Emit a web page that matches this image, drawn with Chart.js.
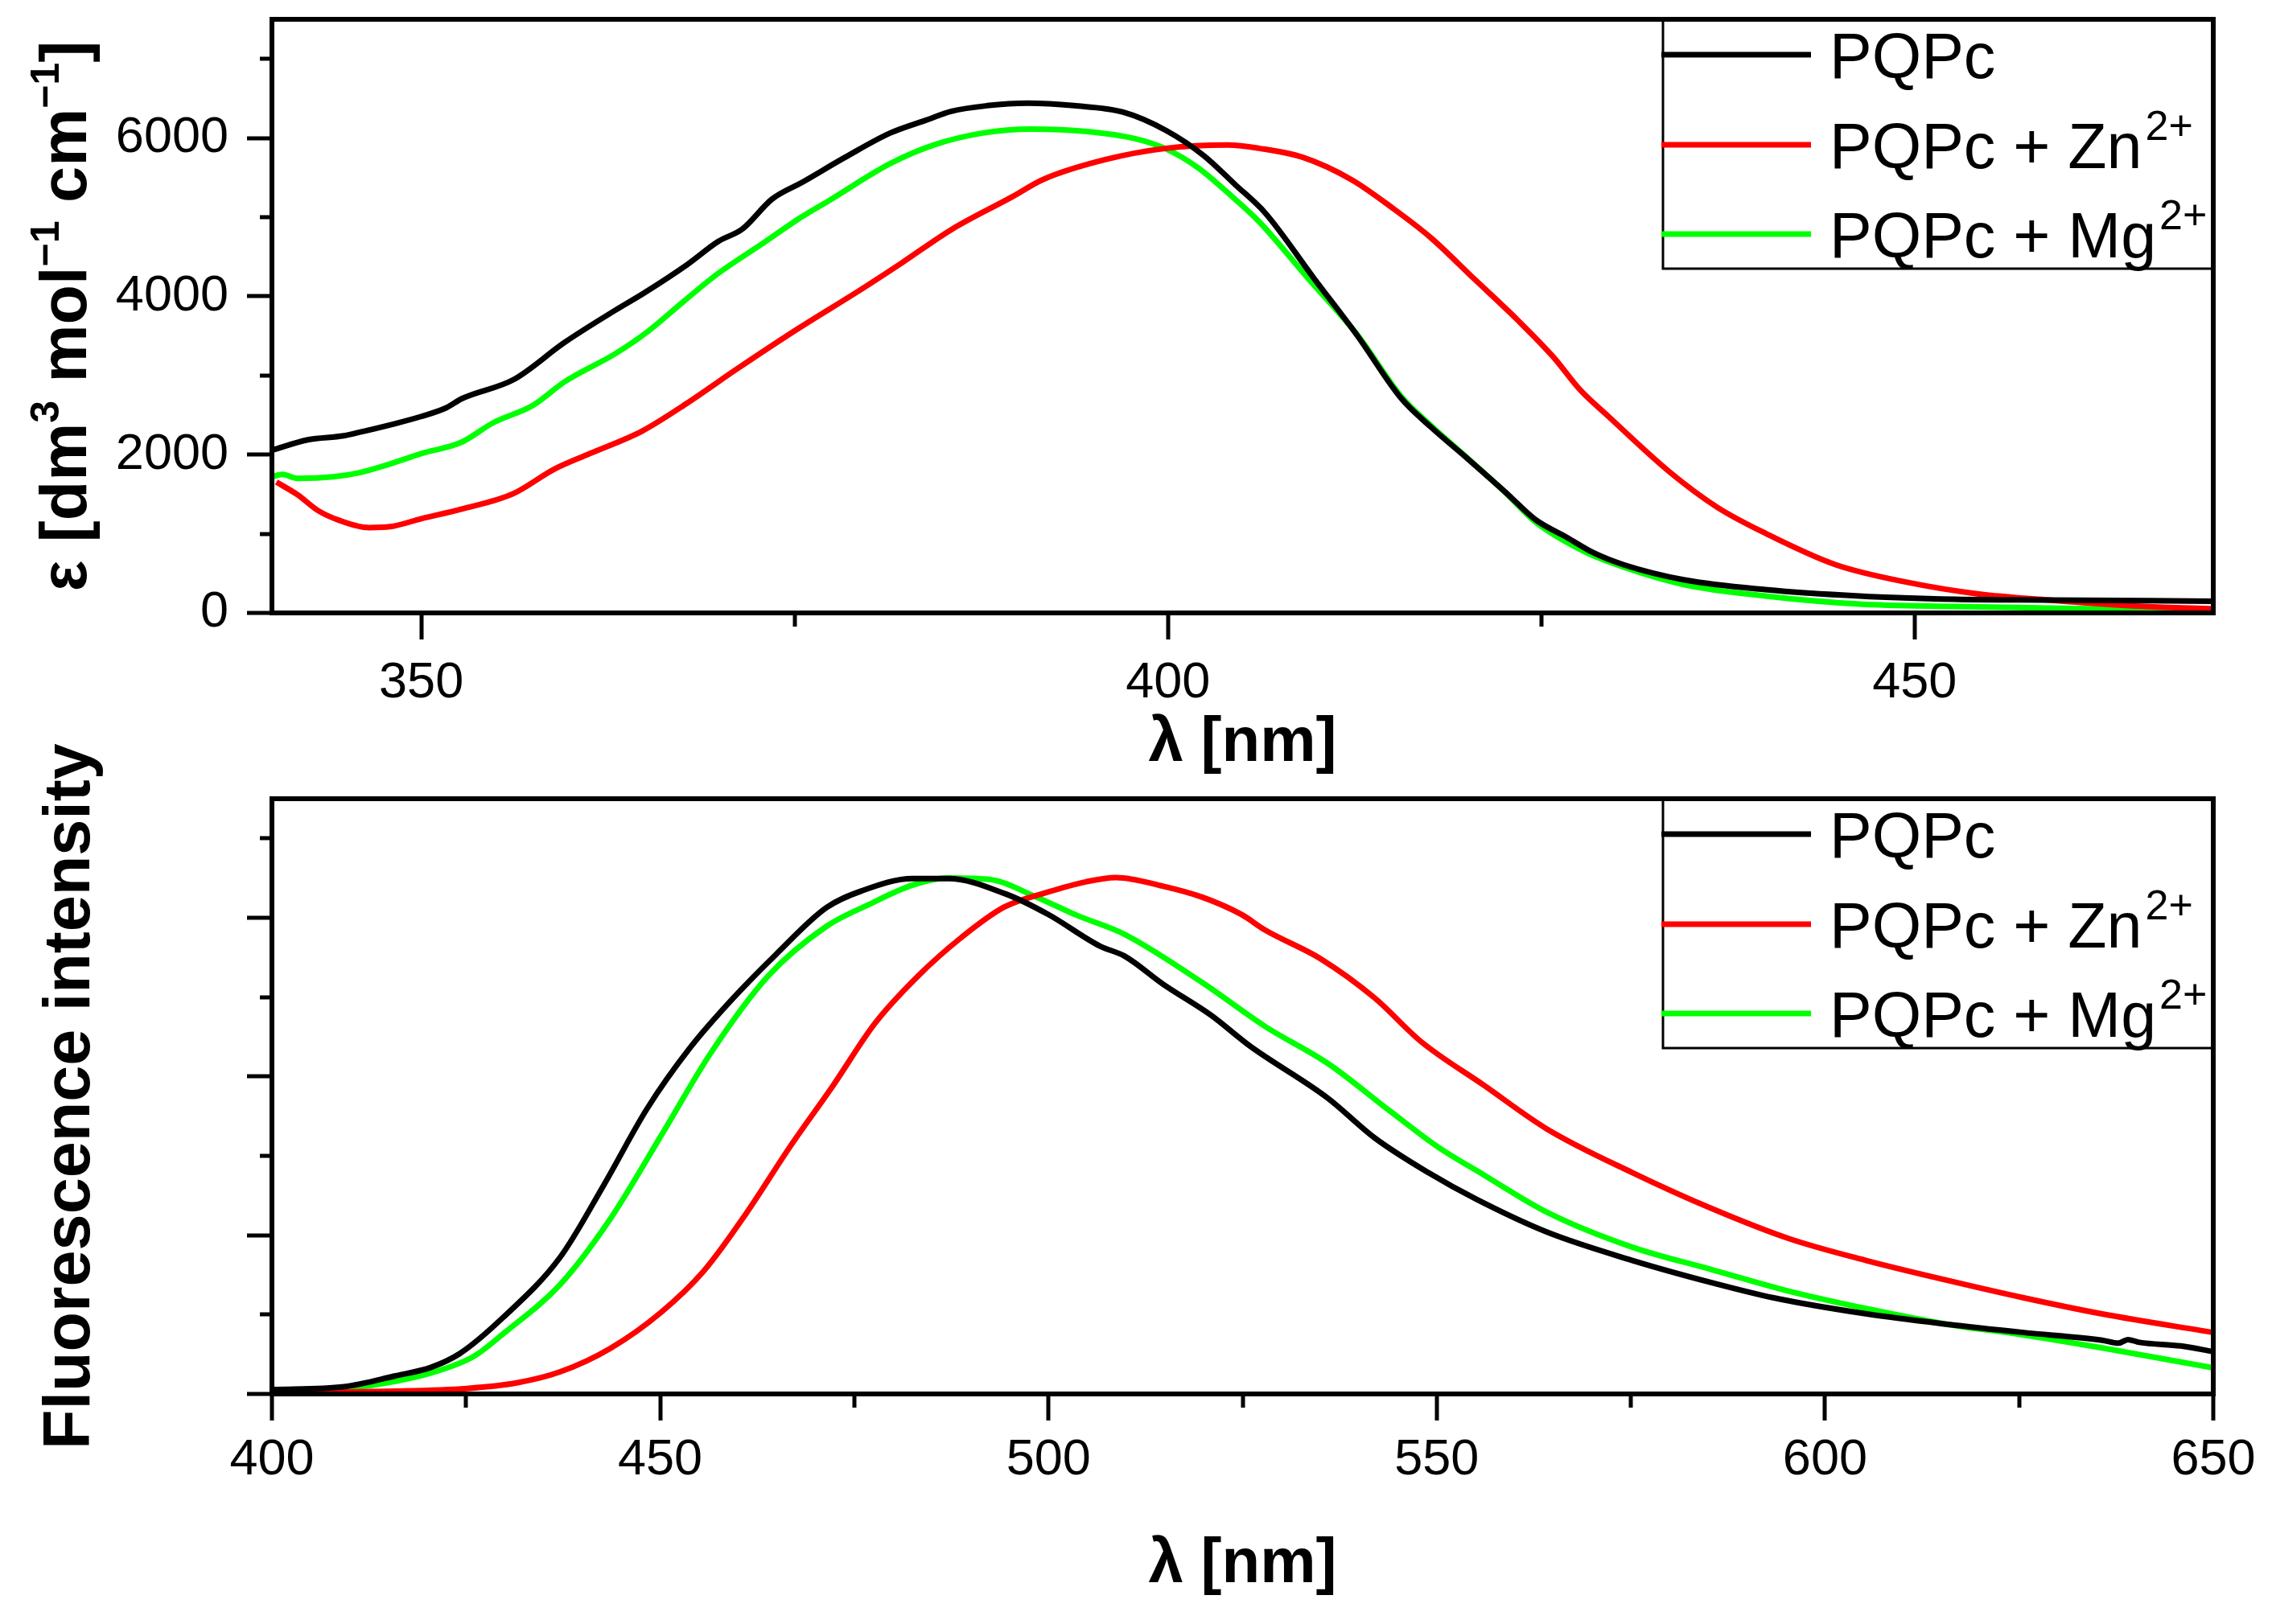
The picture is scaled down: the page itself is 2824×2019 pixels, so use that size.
<!DOCTYPE html>
<html><head><meta charset="utf-8">
<script src="https://cdn.jsdelivr.net/npm/chart.js@4.4.1/dist/chart.umd.min.js"></script>
<style>
html,body{margin:0;padding:0;background:#fff;}
canvas{position:absolute;left:0;}
#c1{top:0;}
#c2{top:880px;}
</style></head><body>
<canvas id="c1" width="2824" height="975" style="width:2824px;height:975px"></canvas>
<canvas id="c2" width="2824" height="1139" style="width:2824px;height:1139px"></canvas>
<script>
// ---------- DATA ----------
const seriesNames = ['PQPc', 'PQPc + Zn', 'PQPc + Mg'];
const seriesSup = ['', '2+', '2+'];
const seriesColors = ['#000000', '#ff0000', '#00ff00'];

// Absorption (top panel): wavelength [nm] and epsilon [dm3 mol-1 cm-1]
const absPQPcX = [340,342.4,344.8,345.8,348,350,351.7,352.7,356.2,359.6,363,364.9,367.8,369.9,371.5,373.5,375.5,378.4,381.4,383.8,385.5,387.9,390.6,393.7,397,399.9,402.4,404.5,406.5,409.8,412.7,415.6,417.6,420.1,422.6,424.6,426.7,428.5,430.5,434.6,440,446.3,452.7,459,470];
const absPQPcY = [2055,2187,2238,2280,2380,2482,2594,2706,2950,3418,3825,4040,4400,4695,4850,5230,5440,5758,6063,6226,6338,6409,6440,6409,6327,6093,5778,5412,5056,4222,3499,2716,2350,1943,1526,1180,956,760,610,417,295,214,173,163,148];
const absZnX = [340.3,341.7,343.1,344.5,346.5,347.9,350,352.7,356.2,358.9,361.3,364.8,367.8,371.2,375.3,379.3,382.2,385.5,389.6,391.6,395.8,399.9,404,406.1,409,412.3,415.1,417.6,420.5,423.4,425.8,427.6,429.5,433.6,436.8,440,444.7,449.5,454.3,459,465.4,470];
const absZnY = [1653,1495,1292,1170,1078,1089,1190,1312,1511,1816,2014,2299,2650,3090,3600,4069,4425,4843,5260,5473,5727,5870,5911,5870,5758,5473,5107,4741,4222,3703,3235,2818,2482,1780,1333,1007,610,387,239,163,81,51];
const absMgX = [340,340.7,341.7,344.1,345.8,347.9,350,352.7,354.8,357.5,359.6,363,365.2,367.6,369.8,372.8,375.4,377.3,381.4,384.3,387.6,390.8,394.6,397.8,399.9,402,404,406.1,409.4,412.7,415.6,417.6,420.1,422.6,424.6,427.9,430.5,434.6,440,446.3,452.7,459,470];
const absMgY = [1719,1750,1699,1719,1770,1882,2014,2157,2401,2625,2920,3276,3560,3940,4278,4660,4995,5209,5677,5911,6063,6114,6083,5992,5860,5626,5310,4944,4222,3510,2740,2370,1950,1520,1150,773,580,356,214,112,81,61,31];

// Fluorescence (bottom panel): wavelength [nm] and intensity (arbitrary units)
const flPQPcX = [400,409.3,415.9,420.5,424.2,429.7,437.1,442.7,448.3,453.8,459.4,464.9,471.4,476,482.5,487.1,494.5,500,506.6,509.8,514.8,520.9,525.9,536,542,549,555.1,564.2,575.3,585.3,593.4,605.4,615.6,625.6,635.7,637.8,639,640.5,645.8,650];
const flPQPcY = [55,92,228,336,509,957,1720,2626,3593,4356,4987,5537,6127,6341,6494,6494,6300,6040,5644,5517,5160,4774,4387,3725,3227,2784,2453,2039,1679,1405,1211,1008,880,774,677,640,685,650,605,533];
const flZnX = [400,415.9,425.1,431.5,437.1,443.6,450.1,455.6,461.1,466.7,472.2,477.7,483.2,488.8,494.3,499.8,504.8,508.7,514.8,519.8,524.9,527.9,535,542,548,556.1,564.2,575.3,585.3,595.4,605.4,615.6,625.6,635.7,650];
const flZnY = [20,35,69,139,278,576,1028,1549,2279,3113,3877,4676,5266,5753,6135,6320,6453,6508,6397,6260,6039,5845,5486,4990,4438,3888,3338,2784,2341,1956,1679,1435,1211,1008,774];
const flMgX = [400,409.3,415.9,420.5,426,429.7,437.1,443.6,450.1,456.5,463.9,471.4,476.9,482.5,487.1,492.6,498.2,503.7,509.8,519.8,527.9,536,544.1,550.1,556.1,564.2,575.3,585.3,595.4,605.4,615.6,625.6,635.7,650];
const flMgY = [41,69,160,264,474,752,1377,2210,3252,4294,5266,5891,6168,6411,6501,6480,6272,6029,5791,5184,4631,4163,3556,3115,2758,2290,1846,1570,1294,1074,880,743,580,329];

// Axis ranges and tick values
const absXRange = [340, 470];
const flXRange = [400, 650];
const yRange = [0, 7500];
const absXTicks = [350, 375, 400, 425, 450];
const flXTicks = [400, 425, 450, 475, 500, 525, 550, 575, 600, 625, 650];
const yTicks = [0, 1000, 2000, 3000, 4000, 5000, 6000, 7000];
const xMajor = 50, yMajor = 2000;

// Axis titles
const absXTitle = '\u03BB [nm]';
const flXTitle = '\u03BB [nm]';
const flYTitle = 'Fluorescence intensity';
const absYTitleParts = [['\u03B5 [dm', 0], ['3', 1], [' mol', 0], ['\u22121', 1], [' cm', 0], ['\u22121', 1], [']', 0]];

// ---------- HELPERS ----------
const FONT = '"Liberation Sans", Arial, sans-serif';
function pts(xs, ys) { return xs.map((x, i) => ({x: x, y: ys[i]})); }
function ds(i, xs, ys) {
  return {
    label: seriesNames[i] + (seriesSup[i] ? '\u00B2\u207A' : ''),
    data: pts(xs, ys),
    borderColor: seriesColors[i],
    backgroundColor: seriesColors[i],
    borderWidth: 7,
    pointRadius: 0,
    fill: false,
    cubicInterpolationMode: 'monotone'
  };
}
function noPad(s) { s.paddingTop = 0; s.paddingBottom = 0; s.paddingLeft = 0; s.paddingRight = 0; }

const framePlugin = {
  id: 'frameTicksLegend',
  afterDatasetsDraw(chart) {
    const ctx = chart.ctx, a = chart.chartArea;
    const xs = chart.scales.x, ys = chart.scales.y;
    ctx.save();
    ctx.strokeStyle = '#000';
    ctx.lineCap = 'butt';
    // ticks
    ctx.lineWidth = 5;
    ctx.beginPath();
    xs.ticks.forEach(t => {
      const px = Math.round(xs.getPixelForValue(t.value));
      const len = (t.value % xMajor === 0) ? 33 : 17;
      ctx.moveTo(px, a.bottom); ctx.lineTo(px, a.bottom + len);
    });
    ys.ticks.forEach(t => {
      const py = Math.round(ys.getPixelForValue(t.value));
      const len = (t.value % yMajor === 0) ? 31 : 15;
      ctx.moveTo(a.left, py); ctx.lineTo(a.left - len, py);
    });
    ctx.stroke();
    // legend box
    const bl = a.right - 684, bt = a.top, bh = 310;
    ctx.fillStyle = '#fff';
    ctx.fillRect(bl, bt, a.right - bl, bh);
    ctx.lineWidth = 3;
    ctx.strokeRect(bl, bt, a.right - bl, bh);
    const rows = [44, 156, 267];
    chart.data.datasets.forEach((d, i) => {
      const y = bt + rows[i];
      ctx.strokeStyle = d.borderColor;
      ctx.lineWidth = 7;
      ctx.beginPath();
      ctx.moveTo(bl - 2, y); ctx.lineTo(bl + 184, y);
      ctx.stroke();
      ctx.fillStyle = '#000';
      ctx.textBaseline = 'alphabetic';
      ctx.textAlign = 'left';
      ctx.font = '79px ' + FONT;
      const base = y + 29;
      ctx.fillText(seriesNames[i], bl + 207, base);
      if (seriesSup[i]) {
        const w = ctx.measureText(seriesNames[i]).width;
        ctx.font = '52px ' + FONT;
        ctx.fillText(seriesSup[i], bl + 207 + w + 4, base - 35);
      }
    });
    // frame
    ctx.strokeStyle = '#000';
    ctx.lineWidth = 6;
    ctx.strokeRect(a.left, a.top, a.right - a.left, a.bottom - a.top);
    ctx.restore();
  }
};

// rotated y title with real superscripts (top panel)
const supTitlePlugin = {
  id: 'supTitle',
  afterDraw(chart) {
    const ctx = chart.ctx, a = chart.chartArea;
    const parts = absYTitleParts;
    const fMain = 'bold 81px ' + FONT, fSup = 'bold 50px ' + FONT;
    let total = 0;
    parts.forEach(p => { ctx.font = p[1] ? fSup : fMain; total += ctx.measureText(p[0]).width; });
    ctx.save();
    ctx.translate(107, (a.top + a.bottom) / 2);
    ctx.rotate(-Math.PI / 2);
    ctx.fillStyle = '#000';
    ctx.textBaseline = 'alphabetic';
    ctx.textAlign = 'left';
    let x = -total / 2;
    parts.forEach(p => {
      ctx.font = p[1] ? fSup : fMain;
      ctx.fillText(p[0], x, p[1] ? -34 : 0);
      x += ctx.measureText(p[0]).width;
    });
    ctx.restore();
  }
};

function makeChart(id, datasets, xRange, xTicks, xTitle, yTitle, showYLabels, pad, xH, xLabPad, xTitlePad, extraPlugins) {
  return new Chart(document.getElementById(id), {
    type: 'line',
    data: { datasets: datasets },
    plugins: [framePlugin].concat(extraPlugins),
    options: {
      responsive: false, animation: false, devicePixelRatio: 1,
      layout: { padding: pad, autoPadding: false },
      plugins: { legend: { display: false }, tooltip: { enabled: false } },
      scales: {
        x: {
          type: 'linear', min: xRange[0], max: xRange[1],
          grid: { display: false, drawTicks: false }, border: { display: false },
          afterBuildTicks: s => { s.ticks = xTicks.map(v => ({ value: v })); },
          ticks: { autoSkip: false, maxRotation: 0, minRotation: 0,
            padding: xLabPad, color: '#000', font: { family: FONT, size: 63 },
            callback: v => (v % xMajor === 0 ? String(v) : '') },
          title: { display: true, text: xTitle, color: '#000',
            font: { family: FONT, size: 78, weight: 'bold' }, padding: { top: 0, bottom: xTitlePad } },
          afterFit: s => { s.height = xH; noPad(s); }
        },
        y: {
          type: 'linear', min: yRange[0], max: yRange[1],
          grid: { display: false, drawTicks: false }, border: { display: false },
          afterBuildTicks: s => { s.ticks = yTicks.map(v => ({ value: v })); },
          ticks: { autoSkip: false,
            padding: 54, color: '#000', font: { family: FONT, size: 63 },
            callback: v => (showYLabels && v % yMajor === 0 ? String(v) : '') },
          title: { display: !!yTitle, text: yTitle || '', color: '#000',
            font: { family: FONT, size: 81, weight: 'bold' }, padding: { top: 40, bottom: 0 } },
          afterFit: s => { s.width = 338; noPad(s); }
        }
      }
    }
  });
}

makeChart('c1',
  [ds(0, absPQPcX, absPQPcY), ds(1, absZnX, absZnY), ds(2, absMgX, absMgY)],
  absXRange, absXTicks, absXTitle, null, true,
  { top: 24, right: 73, left: 0, bottom: 0 }, 213, 50, 4, [supTitlePlugin]);

makeChart('c2',
  [ds(0, flPQPcX, flPQPcY), ds(1, flZnX, flZnY), ds(2, flMgX, flMgY)],
  flXRange, flXTicks, flXTitle, flYTitle, false,
  { top: 113, right: 73, left: 0, bottom: 0 }, 286, 45, 27, []);
</script></body></html>
